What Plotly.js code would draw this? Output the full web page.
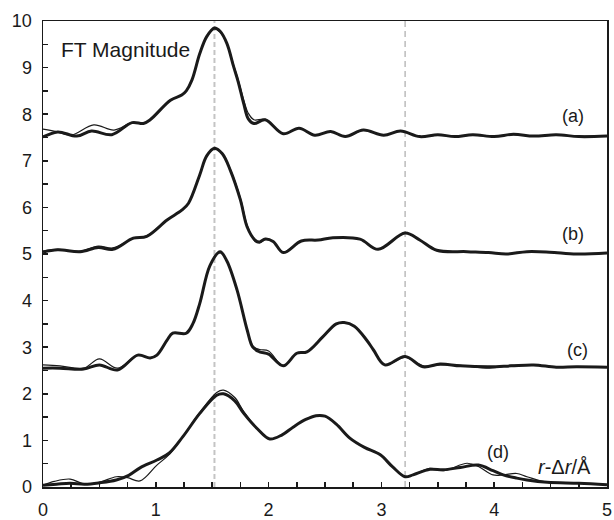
<!DOCTYPE html>
<html><head><meta charset="utf-8">
<script src="https://cdn.plot.ly/plotly-3.0.1.min.js"></script>
<style>html,body{margin:0;padding:0;background:#fff}#c{width:614px;height:520px}</style>
</head><body><div id="c"></div>
<script>
// Curve (a)
const rAThick = [0,0.13,0.3,0.43,0.61,0.79,0.89,0.95,1.13,1.23,1.27,1.32,1.39,1.45,1.52,1.57,1.63,1.69,1.73,1.78,1.82,1.87,1.97,2.13,2.27,2.41,2.55,2.68,2.84,3.02,3.17,3.34,3.5,3.65,3.81,4.0,4.17,4.35,4.55,4.75,5.0];
const aThick  = [7.51,7.62,7.53,7.64,7.56,7.82,7.80,7.88,8.30,8.41,8.50,8.73,9.30,9.66,9.85,9.78,9.52,9.02,8.70,8.22,7.90,7.80,7.88,7.58,7.70,7.55,7.63,7.52,7.66,7.55,7.64,7.52,7.56,7.52,7.56,7.52,7.57,7.53,7.56,7.52,7.53];
const rAThin  = [0,0.13,0.25,0.45,0.63,0.79,0.89,0.95,1.13,1.23,1.27,1.32,1.39,1.45,1.52,1.57,1.63,1.69,1.73,1.78,1.82,1.87,1.97,2.13,2.27,2.41,2.55,2.68,2.84,3.02,3.17,3.34,3.5,3.65,3.81,4.0,4.17,4.35,4.55,4.75,5.0];
const aThin   = [7.68,7.62,7.55,7.77,7.66,7.82,7.80,7.88,8.30,8.41,8.50,8.73,9.30,9.66,9.83,9.76,9.52,9.05,8.74,8.30,8.02,7.88,7.89,7.58,7.70,7.55,7.63,7.52,7.66,7.55,7.64,7.52,7.55,7.53,7.55,7.53,7.56,7.53,7.55,7.53,7.53];

// Curve (b)
const rB     = [0,0.13,0.33,0.49,0.62,0.8,0.92,1.1,1.23,1.29,1.39,1.45,1.52,1.59,1.66,1.75,1.81,1.88,1.92,1.97,2.04,2.13,2.29,2.44,2.57,2.81,2.97,3.21,3.34,3.49,3.76,3.95,4.11,4.29,4.49,4.73,5.0];
const bThick = [5.04,5.09,5.05,5.14,5.10,5.34,5.38,5.73,5.94,6.09,6.70,7.10,7.27,7.15,6.80,6.16,5.58,5.30,5.26,5.32,5.27,5.03,5.28,5.30,5.35,5.32,5.10,5.45,5.30,5.08,5.05,5.03,5.00,5.05,5.04,5.00,5.02];
const bThin  = [5.06,5.10,5.06,5.17,5.13,5.33,5.39,5.73,5.94,6.09,6.70,7.10,7.25,7.15,6.82,6.20,5.62,5.27,5.24,5.31,5.27,5.04,5.28,5.30,5.35,5.32,5.10,5.45,5.30,5.08,5.05,5.03,5.00,5.05,5.04,5.00,5.02];

// Curve (c)
const rC     = [0,0.15,0.36,0.5,0.66,0.84,0.95,1.01,1.1,1.15,1.27,1.33,1.39,1.48,1.57,1.63,1.72,1.81,1.86,1.92,2.0,2.13,2.25,2.34,2.48,2.6,2.67,2.76,2.87,2.93,3.03,3.21,3.37,3.52,3.7,3.96,4.15,4.35,4.55,4.73,5.0];
const cThick = [2.55,2.55,2.53,2.62,2.51,2.83,2.77,2.83,3.15,3.30,3.30,3.51,3.94,4.75,5.05,4.85,4.23,3.37,3.00,2.90,2.85,2.60,2.87,2.90,3.22,3.50,3.53,3.45,3.15,2.94,2.62,2.80,2.58,2.64,2.60,2.58,2.60,2.62,2.57,2.58,2.57];
const cThin  = [2.62,2.60,2.55,2.75,2.55,2.83,2.77,2.83,3.15,3.30,3.30,3.51,3.94,4.75,5.03,4.85,4.23,3.38,3.03,2.95,2.92,2.60,2.87,2.90,3.22,3.50,3.53,3.45,3.15,2.94,2.62,2.78,2.60,2.62,2.61,2.55,2.61,2.61,2.58,2.58,2.57];

// Curve (d)
const rDThick = [0,0.12,0.24,0.37,0.5,0.65,0.76,0.86,1.01,1.12,1.24,1.39,1.54,1.6,1.7,1.78,1.9,2.01,2.12,2.22,2.33,2.42,2.5,2.6,2.72,2.85,2.99,3.1,3.21,3.28,3.43,3.55,3.7,3.86,3.99,4.08,4.2,4.29,4.47,4.75,5.0];
const dThick  = [0.04,0.06,0.08,0.06,0.09,0.15,0.25,0.41,0.58,0.73,1.08,1.58,1.97,2.00,1.85,1.58,1.25,1.03,1.12,1.29,1.45,1.53,1.52,1.35,1.05,0.85,0.69,0.43,0.22,0.26,0.38,0.37,0.42,0.47,0.35,0.26,0.19,0.15,0.10,0.08,0.05];
const rDThin  = [0,0.1,0.24,0.37,0.5,0.65,0.75,0.86,1.01,1.12,1.24,1.39,1.54,1.6,1.7,1.78,1.9,2.01,2.12,2.22,2.33,2.42,2.5,2.6,2.72,2.85,2.99,3.1,3.21,3.28,3.43,3.55,3.76,3.86,3.99,4.08,4.2,4.29,4.47,4.75,5.0];
const dThin   = [0.04,0.12,0.17,0.06,0.10,0.22,0.20,0.13,0.47,0.70,1.08,1.60,2.03,2.08,1.92,1.62,1.25,1.03,1.12,1.29,1.45,1.53,1.52,1.35,1.05,0.85,0.69,0.43,0.21,0.26,0.40,0.35,0.51,0.44,0.26,0.26,0.29,0.22,0.10,0.08,0.05];

const panelLabels = ['(a)','(b)','(c)','(d)'];
const labelX = [4.7,4.7,4.74,4.03];
const labelY = [7.96,5.42,2.95,0.75];
const dashX = [1.52,3.21];

const thick = {color:'#1a1a1a', width:3, shape:'spline', smoothing:1};
const thin  = {color:'#1a1a1a', width:1.2, shape:'spline', smoothing:1};
function tr(x,y,l){return {x:x,y:y,type:'scatter',mode:'lines',line:l,hoverinfo:'skip'};}
const data = [
  tr(rAThin,aThin,thin), tr(rAThick,aThick,thick),
  tr(rB,bThin,thin), tr(rB,bThick,thick),
  tr(rC,cThin,thin), tr(rC,cThick,thick),
  tr(rDThin,dThin,thin), tr(rDThick,dThick,thick)
];
const font = 'Liberation Sans, Arial, sans-serif';
const annotations = panelLabels.map((t,i)=>({x:labelX[i],y:labelY[i],text:t,showarrow:false,font:{family:font,size:18,color:'#1a1a1a'}}));
annotations.push({x:0.14,y:9.38,xanchor:'left',text:'FT Magnitude',showarrow:false,font:{family:font,size:21,color:'#1a1a1a'}});
annotations.push({x:4.88,y:0.43,xanchor:'right',text:'<i>r</i>-Δ<i>r</i>/Å',showarrow:false,font:{family:font,size:20,color:'#1a1a1a'}});
const shapes = [
  {type:'line',x0:dashX[0],x1:dashX[0],y0:0,y1:10,xref:'x',yref:'y',line:{color:'#c4c4c4',width:2,dash:'5px,3px'},layer:'below'},
  {type:'line',x0:dashX[1],x1:dashX[1],y0:0,y1:10,xref:'x',yref:'y',line:{color:'#9a9a9a',width:1,dash:'6px,4px'},layer:'below'}
];
const axisCommon = {showline:true,linecolor:'#1a1a1a',linewidth:1.5,mirror:true,ticks:'inside',ticklen:5,tickwidth:1.5,tickcolor:'#1a1a1a',showgrid:false,zeroline:false,tickfont:{family:font,size:18,color:'#1a1a1a'},ticklabelstandoff:6};
const layout = {
  width:614,height:520,margin:{l:43,r:7,t:21,b:33},
  paper_bgcolor:'#fff',plot_bgcolor:'#fff',showlegend:false,
  xaxis:Object.assign({},axisCommon,{range:[0,5],dtick:1,tick0:0,minor:{dtick:0.25,ticks:'inside',ticklen:5,tickwidth:1.5,tickcolor:'#1a1a1a'}}),
  yaxis:Object.assign({},axisCommon,{range:[0,10],dtick:1,tick0:0,minor:{dtick:0.5,ticks:'inside',ticklen:5,tickwidth:1.5,tickcolor:'#1a1a1a'}}),
  annotations:annotations,shapes:shapes
};
Plotly.newPlot('c',data,layout,{staticPlot:true});
</script></body></html>
